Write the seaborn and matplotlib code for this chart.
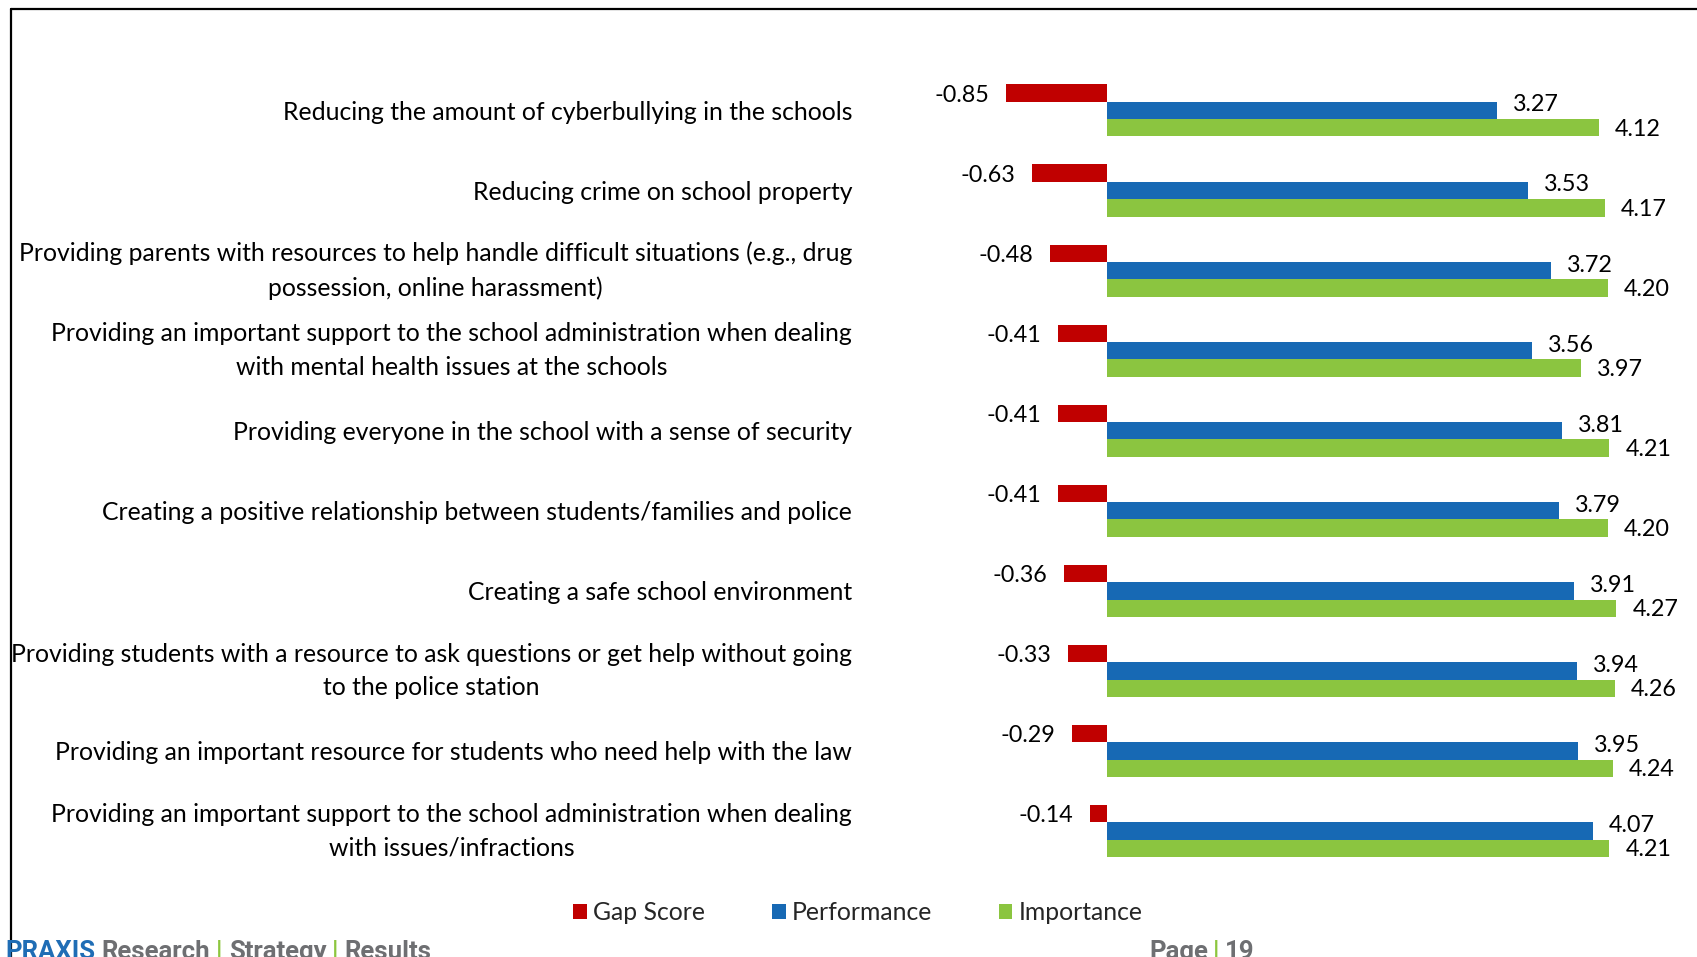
import numpy as np
import pandas as pd
import matplotlib
matplotlib.use("Agg")
import matplotlib.pyplot as plt
from matplotlib.lines import Line2D
import seaborn as sns

# ---- data -------------------------------------------------------------
items = [
    "Reducing the amount of cyberbullying in the schools",
    "Reducing crime on school property",
    "Providing parents with resources to help handle difficult situations (e.g., drug\npossession, online harassment)",
    "Providing an important support to the school administration when dealing\nwith mental health issues at the schools",
    "Providing everyone in the school with a sense of security",
    "Creating a positive relationship between students/families and police",
    "Creating a safe school environment",
    "Providing students with a resource to ask questions or get help without going\nto the police station",
    "Providing an important resource for students who need help with the law",
    "Providing an important support to the school administration when dealing\nwith issues/infractions",
]
gap_score = [-0.85, -0.63, -0.48, -0.41, -0.41, -0.41, -0.36, -0.33, -0.29, -0.14]
performance = [3.27, 3.53, 3.72, 3.56, 3.81, 3.79, 3.91, 3.94, 3.95, 4.07]
importance = [4.12, 4.17, 4.20, 3.97, 4.21, 4.20, 4.27, 4.26, 4.24, 4.21]
series_names = ["Gap Score", "Performance", "Importance"]
series_colors = ["#C00000", "#1769B4", "#8BC540"]

df = pd.DataFrame({"item": items, series_names[0]: gap_score,
                   series_names[1]: performance, series_names[2]: importance})
long_df = df.melt(id_vars="item", var_name="series", value_name="value")

# ---- figure -----------------------------------------------------------
W, H = 1697, 957
sns.set_theme(style="white")
plt.rcParams["font.family"] = ["Lato", "DejaVu Sans"]
fig = plt.figure(figsize=(W / 100, H / 100), dpi=100)

left_px, right_px, top_px, bot_px = 880, 1697, 70.4, 871.1
ax = fig.add_axes([left_px / W, 1 - bot_px / H,
                   (right_px - left_px) / W, (bot_px - top_px) / H])

sns.barplot(data=long_df, y="item", x="value", hue="series",
            hue_order=series_names, palette=series_colors, orient="h",
            width=0.65, saturation=1, dodge=True, linewidth=0, ax=ax)

ax.set_xlim(-1.903, 4.945)
ax.set_ylim(9.5, -0.5)
ax.set_xlabel("")
ax.set_ylabel("")
ax.set_xticks([])
for s in ax.spines.values():
    s.set_visible(False)
ax.tick_params(axis="y", length=0, pad=20, labelsize=17.8, labelcolor="black")
for lbl in ax.get_yticklabels():
    lbl.set_multialignment("center")
    lbl.set_linespacing(1.55)
    if "\n" in lbl.get_text():
        lbl.set_verticalalignment("center")

# value labels next to each bar end
label_dy = [-1.5, 4, -1]
for k, (container, vals) in enumerate(zip(ax.containers, [gap_score, performance, importance])):
    for patch, v in zip(container.patches, vals):
        y = patch.get_y() + patch.get_height() / 2
        if v < 0:
            ax.annotate(f"{v:.2f}", (v, y), xytext=(-12, label_dy[k]),
                        textcoords="offset points", ha="right", va="center",
                        fontsize=16.8, color="black")
        else:
            ax.annotate(f"{v:.2f}", (v, y), xytext=(11.5, label_dy[k]),
                        textcoords="offset points", ha="left", va="center",
                        fontsize=16.8, color="black")

sns.move_legend(ax, "center", bbox_to_anchor=(858 / W, 1 - 913 / H),
                bbox_transform=fig.transFigure, ncol=3, frameon=False,
                title=None, fontsize=17.8, handlelength=0.55, handleheight=0.55,
                handletextpad=0.25, columnspacing=2.7)

# page frame
fig.add_artist(Line2D([11 / W, 1], [1 - 9 / H, 1 - 9 / H], transform=fig.transFigure,
                      color="black", lw=1.6))
fig.add_artist(Line2D([11 / W, 11 / W], [0, 1 - 9 / H], transform=fig.transFigure,
                      color="black", lw=1.6))

# footer
blue, grey, green = "#1F6DB5", "#6E6F72", "#8DC63F"
fy = 1 - 959 / H
footer = [(5, "PRAXIS", blue), (101, "Research", grey), (216, "|", green),
          (229, "Strategy", grey), (332, "|", green), (344, "Results", grey),
          (1149, "Page", grey), (1213, "|", green), (1225, "19", grey)]
for x, t, c in footer:
    fig.text(x / W, fy, t, color=c, fontsize=18.5, fontweight="bold",
             family=["Roboto", "DejaVu Sans"], ha="left", va="baseline")

fig.savefig("out.png", dpi=100)
